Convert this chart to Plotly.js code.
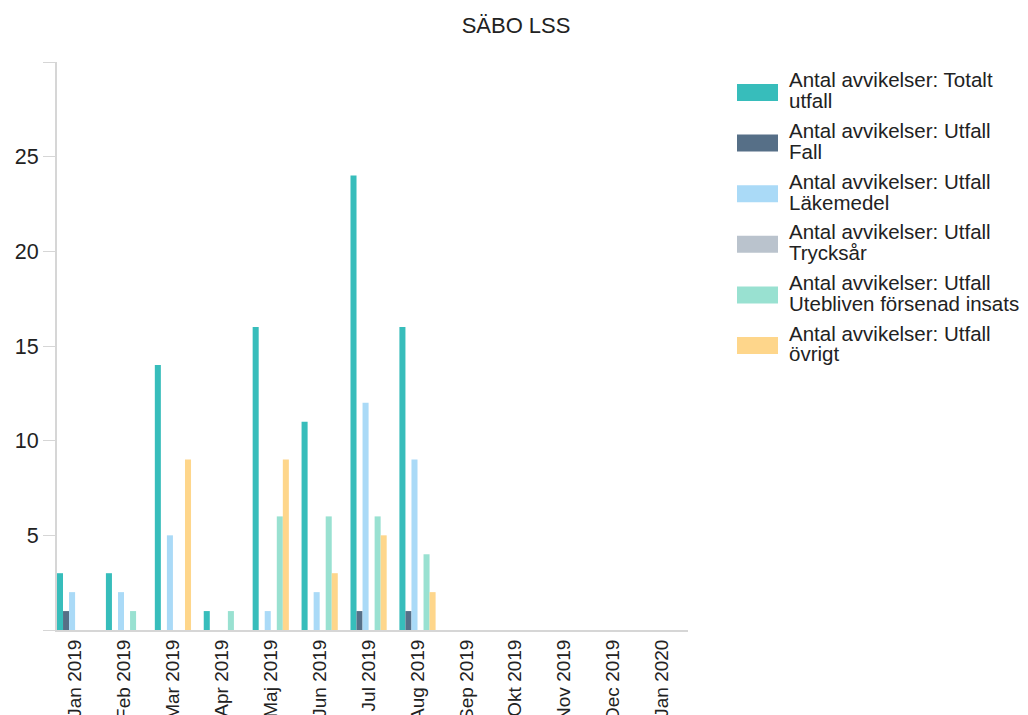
<!DOCTYPE html>
<html>
<head>
<meta charset="utf-8">
<script src="https://cdn.plot.ly/plotly-3.0.1.min.js"></script>
<style>html,body{margin:0;padding:0;background:#fff;}#chart{width:1028px;height:715px;}</style>
</head>
<body>
<div id="chart"></div>
<script>
const months = ["Jan 2019","Feb 2019","Mar 2019","Apr 2019","Maj 2019","Jun 2019","Jul 2019","Aug 2019","Sep 2019","Okt 2019","Nov 2019","Dec 2019","Jan 2020"];
const seriesNames = [
  "Antal avvikelser: Totalt utfall",
  "Antal avvikelser: Utfall Fall",
  "Antal avvikelser: Utfall Läkemedel",
  "Antal avvikelser: Utfall Trycksår",
  "Antal avvikelser: Utfall Utebliven försenad insats",
  "Antal avvikelser: Utfall övrigt"
];
const legendLines = [
  ["Antal avvikelser: Totalt", "utfall"],
  ["Antal avvikelser: Utfall", "Fall"],
  ["Antal avvikelser: Utfall", "Läkemedel"],
  ["Antal avvikelser: Utfall", "Trycksår"],
  ["Antal avvikelser: Utfall", "Utebliven försenad insats"],
  ["Antal avvikelser: Utfall", "övrigt"]
];
const totalt     = [3, 3, 14, 1, 16, 11, 24, 16, null, null, null, null, null];
const fall       = [1, 0, 0, 0, 0, 0, 1, 1, null, null, null, null, null];
const lakemedel  = [2, 2, 5, 0, 1, 2, 12, 9, null, null, null, null, null];
const trycksar   = [0, 0, 0, 0, 0, 0, 0, 0, null, null, null, null, null];
const utebliven  = [0, 1, 0, 1, 6, 6, 6, 4, null, null, null, null, null];
const ovrigt     = [0, 0, 9, 0, 9, 3, 5, 2, null, null, null, null, null];
const colors = ["#37bdbb", "#566f87", "#aadaf7", "#bac3cd", "#99e1d1", "#fed68b"];
const yTicks = [0, 5, 10, 15, 20, 25, 30];
const yTickText = ["", "5", "10", "15", "20", "25", ""];

// plot-area geometry (pixels)
const W = 1028, H = 715;
const M = {l: 57, r: 340, t: 62, b: 85};
const plotW = W - M.l - M.r, plotH = H - M.t - M.b;
const px2x = px => (px - M.l) / plotW;
const px2y = py => (H - M.b - py) / plotH;

const allSeries = [totalt, fall, lakemedel, trycksar, utebliven, ovrigt];
const data = allSeries.map((vals, i) => ({
  type: "bar",
  x: months,
  y: vals,
  name: seriesNames[i],
  marker: {color: colors[i]},
  hoverinfo: "x+y+name",
  showlegend: false
}));

// custom legend (wide swatches, tight line spacing like the reference)
const legFont = {family: "Liberation Sans, Arial, sans-serif", size: 20.5, color: "#222"};
const legTop = 92.5, legStep = 50.6;
const lineOffsets = [-5.5, 15.3];
const shapes = [], annotations = [];
legendLines.forEach((lines, i) => {
  const cy = legTop + i * legStep;
  shapes.push({
    type: "rect", xref: "paper", yref: "paper",
    x0: px2x(737), x1: px2x(778), y0: px2y(cy - 8.5), y1: px2y(cy + 8.5),
    fillcolor: colors[i], line: {width: 0}
  });
  lines.forEach((txt, j) => {
    const baseline = cy + lineOffsets[j];
    annotations.push({
      xref: "paper", yref: "paper", showarrow: false,
      x: px2x(787), xanchor: "left",
      y: px2y(baseline - 7), yanchor: "middle",
      text: txt, font: legFont
    });
  });
});

const layout = {
  width: W,
  height: H,
  paper_bgcolor: "#ffffff",
  plot_bgcolor: "#ffffff",
  font: {family: "Liberation Sans, Arial, sans-serif", color: "#222", size: 15},
  title: {text: "SÄBO LSS", x: 0.502, xanchor: "center", y: 0.965, yanchor: "middle", font: {size: 22, color: "#222"}},
  margin: M,
  barmode: "group",
  bargap: 0.26,
  bargroupgap: 0,
  showlegend: false,
  shapes: shapes,
  annotations: annotations,
  xaxis: {
    type: "category",
    range: [-0.37, 12.53],
    tickangle: -90,
    showline: true, linecolor: "#d6d6d6", linewidth: 2,
    ticks: "", showgrid: false, zeroline: false,
    tickfont: {size: 19, color: "#222"},
    fixedrange: true
  },
  yaxis: {
    range: [0, 30],
    tickmode: "array",
    tickvals: yTicks,
    ticktext: yTickText,
    showline: true, linecolor: "#d6d6d6", linewidth: 2,
    ticks: "outside", ticklen: 12, tickcolor: "#d6d6d6", tickwidth: 1,
    showgrid: false, zeroline: false,
    tickfont: {size: 21.5, color: "#222"},
    fixedrange: true
  }
};

Plotly.newPlot("chart", data, layout, {displayModeBar: false, staticPlot: true});
</script>
</body>
</html>
